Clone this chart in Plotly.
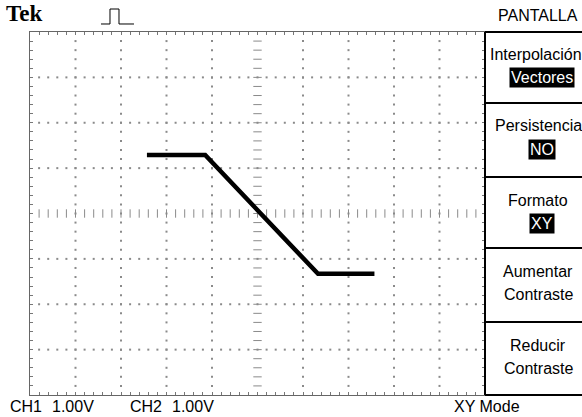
import numpy as np
import plotly.graph_objects as go

# ---- data (in divisions, screen centre = 0) ----
xy_x = [-2.43, -1.15, 1.33, 2.57]
xy_y = [1.29, 1.29, -1.33, -1.33]

ch_labels = ["CH1", "1.00V", "CH2", "1.00V"]
ch_label_x = [26, 73, 146, 193]
mode_label = "XY Mode"

menu_title = "PANTALLA"
menu_items = [("Interpolación", "Vectores"), ("Persistencia", "NO"),
              ("Formato", "XY"), ("Aumentar", "Contraste"), ("Reducir", "Contraste")]
menu_highlight = [True, True, True, False, False]

W, H = 582, 417
L, R, T, B = 30, 485, 32, 395
PW, PH = R - L, B - T


def px(x):
    return (x - L) / PW


def py(y):
    return (B - y) / PH


FONT = "Liberation Sans, Arial, sans-serif"
FS = 16

fig = go.Figure()

# graticule dots
gx, gy = [], []
steps = np.round(np.arange(-5, 5.001, 0.2), 3)
vsteps = np.round(np.arange(-4, 4.001, 0.2), 3)
for v in range(-4, 5):
    if v == 0:
        continue
    for s in vsteps[1:-1]:
        gx.append(v); gy.append(s)
for h in range(-3, 4):
    if h == 0:
        continue
    for s in steps[1:-1]:
        gx.append(s); gy.append(h)
fig.add_trace(go.Scatter(x=gx, y=gy, mode="markers", hoverinfo="skip",
                         marker=dict(symbol="square", size=2, color="#8a8a8a", line=dict(width=0))))
# centre lines with tick marks
fig.add_trace(go.Scatter(x=list(steps[1:-1]), y=[0] * len(steps[1:-1]), mode="markers", hoverinfo="skip",
                         marker=dict(symbol="line-ns", size=6, line=dict(width=1, color="#8a8a8a"))))
fig.add_trace(go.Scatter(x=[0] * len(vsteps[1:-1]), y=list(vsteps[1:-1]), mode="markers", hoverinfo="skip",
                         marker=dict(symbol="line-ew", size=6, line=dict(width=1, color="#8a8a8a"))))

# XY trace
fig.add_trace(go.Scatter(x=xy_x, y=xy_y, mode="lines", hoverinfo="skip",
                         line=dict(color="black", width=4.5)))

axis_common = dict(showgrid=False, zeroline=False, showticklabels=False,
                   ticks="inside", ticklen=3, tickcolor="#777", tickwidth=1,
                   showline=True, linecolor="#666", linewidth=1, mirror="ticks", fixedrange=True)
fig.update_xaxes(range=[-5, 5], dtick=0.2, tick0=-5, **axis_common)
fig.update_yaxes(range=[-4, 4], dtick=0.2, tick0=-4, **axis_common)

shapes = []
# right border + menu separators
shapes.append(dict(type="line", xref="paper", yref="paper", x0=px(R), x1=px(R), y0=py(T), y1=py(B),
                   line=dict(color="black", width=2)))
for yy in [T, 103, 177, 248, 322, B]:
    shapes.append(dict(type="line", xref="paper", yref="paper", x0=px(R), x1=px(W + 2), y0=py(yy), y1=py(yy),
                       line=dict(color="black", width=2)))
# trigger pulse icon
path_pts = [(101, 24), (110, 24), (110, 9), (119, 9), (119, 24), (134, 24)]
path = "M " + " L ".join(f"{px(a):.5f},{py(b):.5f}" for a, b in path_pts)
shapes.append(dict(type="path", xref="paper", yref="paper", path=path,
                   line=dict(color="black", width=1)))
fig.update_layout(shapes=shapes)

ann = []
ann.append(dict(x=px(4), y=py(14), xref="paper", yref="paper", text="<b>Tek</b>", showarrow=False,
                xanchor="left", yanchor="middle",
                font=dict(family="Liberation Serif, Times New Roman, serif", size=23, color="black")))
ann.append(dict(x=px(538), y=py(15), xref="paper", yref="paper", text=menu_title, showarrow=False,
                xanchor="center", yanchor="middle", font=dict(family=FONT, size=FS, color="black")))
tops = [32, 103, 177, 248, 322]
for i, (a, b) in enumerate(menu_items):
    top = tops[i]
    if i == 0:
        ann.append(dict(x=px(488), y=py(top + 23), xref="paper", yref="paper", text=a, showarrow=False,
                        xanchor="left", yanchor="middle", font=dict(family=FONT, size=FS, color="black")))
    else:
        ann.append(dict(x=px(538), y=py(top + 23), xref="paper", yref="paper", text=a, showarrow=False,
                        xanchor="center", yanchor="middle", font=dict(family=FONT, size=FS, color="black")))
    if menu_highlight[i]:
        ann.append(dict(x=px(542), y=py(top + 46), xref="paper", yref="paper", text=b, showarrow=False,
                        xanchor="center", yanchor="middle", bgcolor="black", borderpad=1,
                        font=dict(family=FONT, size=FS, color="white")))
    else:
        ann.append(dict(x=px(538), y=py(top + 46), xref="paper", yref="paper", text=b, showarrow=False,
                        xanchor="center", yanchor="middle", font=dict(family=FONT, size=FS, color="black")))
for t, xx in zip(ch_labels, ch_label_x):
    ann.append(dict(x=px(xx), y=py(406), xref="paper", yref="paper", text=t, showarrow=False,
                    xanchor="center", yanchor="middle", font=dict(family=FONT, size=FS, color="black")))
ann.append(dict(x=px(487), y=py(406), xref="paper", yref="paper", text=mode_label, showarrow=False,
                xanchor="center", yanchor="middle", font=dict(family=FONT, size=FS, color="black")))
fig.update_layout(annotations=ann)

fig.update_layout(width=W, height=H, margin=dict(l=L, r=W - R, t=T, b=H - B, pad=0),
                  paper_bgcolor="white", plot_bgcolor="white", showlegend=False)

fig.write_html("out.html", config={"displayModeBar": False},
               post_script="document.body.style.margin='0';document.body.style.padding='0';")
